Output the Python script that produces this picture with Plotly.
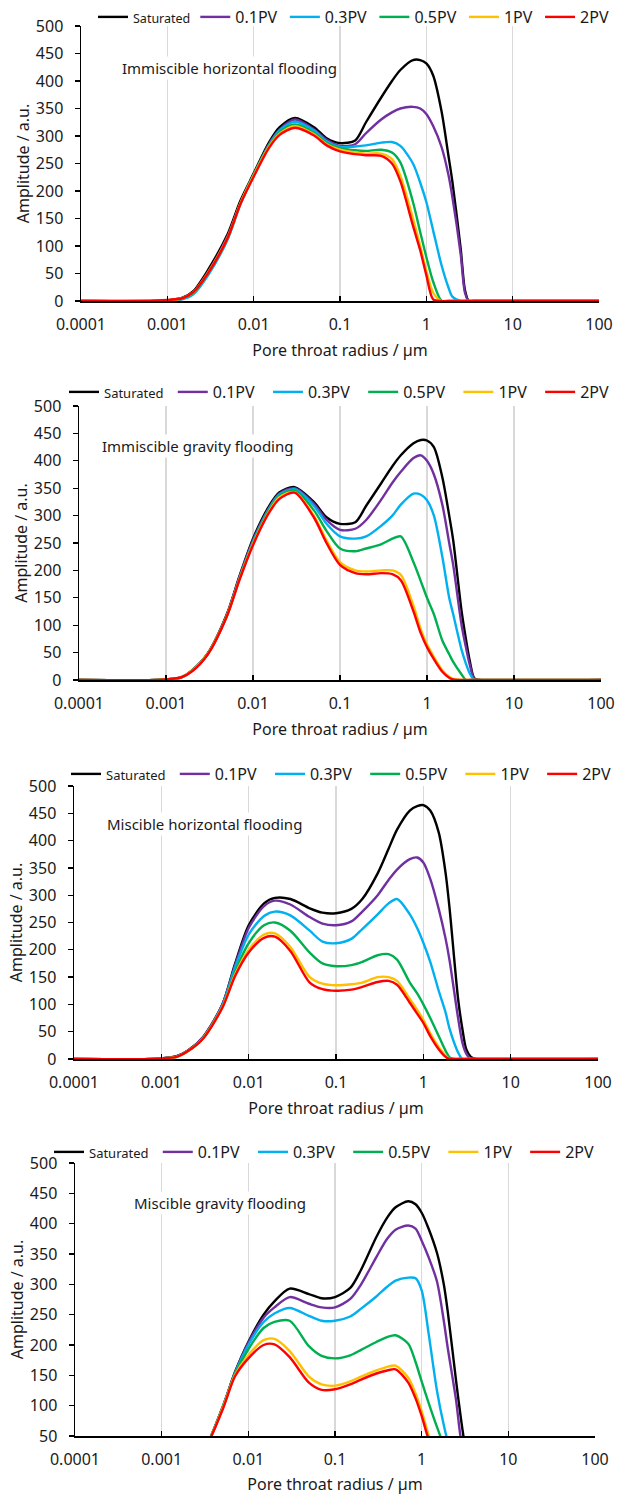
import plotly.graph_objects as go

# ---------------- data ----------------
radius = [0.0001, 0.0008, 0.001, 0.0015, 0.002, 0.003, 0.005, 0.007, 0.01, 0.015,
          0.02, 0.03, 0.05, 0.07, 0.1, 0.15, 0.2, 0.3, 0.4, 0.5,
          0.7, 0.85, 1, 1.2, 1.5, 1.8, 2, 2.5, 2.8, 3.1,
          3.5, 4, 100]

series_names = ["Saturated", "0.1PV", "0.3PV", "0.5PV", "1PV", "2PV"]
series_colors = ["#000000", "#7030A0", "#00B0F0", "#00B050", "#FFC000", "#FF0000"]
panel_titles = ["Immiscible horizontal flooding", "Immiscible gravity flooding",
                "Miscible horizontal flooding", "Miscible gravity flooding"]
x_tick_vals = [0.0001, 0.001, 0.01, 0.1, 1, 10, 100]
x_tick_text = ["0.0001", "0.001", "0.01", "0.1", "1", "10", "100"]

# Immiscible horizontal flooding
ih_sat = [0,0,1,6,18,58,122,182,232,288,316,333,316,296,287,292,325,370,400,420,438,438,432,410,345,265,218,95,20,0,0,0,0]
ih_01 = [0,0,1,5,16,54,118,178,230,285,312,330,312,293,282,285,305,330,343,350,353,350,340,318,280,230,190,85,15,0,0,0,0]
ih_03 = [0,0,0,3,12,48,112,175,228,283,310,326,310,290,280,281,283,288,289,282,250,215,180,128,65,25,8,0,0,0,0,0,0]
ih_05 = [0,0,1,5,15,52,115,177,230,282,307,321,306,287,278,274,273,275,270,252,180,125,80,35,0,0,0,0,0,0,0,0,0]
ih_1 = [0,0,1,5,16,53,116,177,228,280,304,318,303,285,275,270,268,268,258,228,150,100,55,15,0,0,0,0,0,0,0,0,0]
ih_2 = [0,1,2,5,16,52,115,176,226,278,302,315,301,283,272,267,265,264,250,218,137,92,47,3,0,0,0,0,0,0,0,0,0]

# Immiscible gravity flooding
ig_sat = [0,0,1,5,18,48,120,190,258,315,342,352,325,297,285,288,318,360,390,410,432,438,437,425,370,300,255,125,75,35,3,0,0]
ig_01 = [0,0,1,5,17,47,118,188,255,312,340,350,322,292,274,276,292,330,360,380,405,410,400,375,320,250,210,100,60,28,2,0,0]
ig_03 = [0,0,1,5,17,47,117,186,252,310,338,348,318,285,262,258,262,282,300,320,340,338,328,300,225,150,120,55,30,12,0,0,0]
ig_05 = [0,0,1,5,17,47,117,185,250,308,336,346,310,272,240,235,240,248,258,262,215,180,150,120,72,47,33,10,0,0,0,0,0]
ig_1 = [0,0,1,5,17,47,117,184,248,305,333,343,300,255,215,200,198,200,200,192,135,92,65,42,18,6,2,0,0,0,0,0,0]
ig_2 = [0,0,1,5,16,46,116,183,246,303,330,342,297,250,210,195,193,195,193,182,125,85,60,38,15,4,1,0,0,0,0,0,0]

# Miscible horizontal flooding
mh_sat = [0,0,1,5,15,40,100,175,245,285,295,293,276,268,267,275,293,340,385,420,455,463,465,455,415,340,275,110,55,18,4,0,0]
mh_01 = [0,0,1,5,15,40,100,172,240,280,290,283,260,248,245,252,270,300,328,347,366,369,360,330,275,220,180,75,30,10,0,0,0]
mh_03 = [0,0,1,4,14,38,98,168,228,262,270,263,235,215,212,220,238,265,285,293,265,240,213,178,125,85,55,12,0,0,0,0,0]
mh_05 = [0,0,1,4,14,38,96,160,212,245,250,235,195,175,170,172,178,190,192,182,140,120,100,75,42,15,3,0,0,0,0,0,0]
mh_1 = [0,0,1,4,14,38,95,155,200,228,230,205,150,138,135,137,140,150,150,143,110,90,72,47,22,6,0,0,0,0,0,0,0]
mh_2 = [0,0,1,4,14,37,94,152,195,222,224,198,140,128,125,127,132,141,143,136,103,83,66,42,18,4,0,0,0,0,0,0,0]

# Miscible gravity flooding
mg_sat = [0,0,1,4,10,25,96,155,205,250,272,293,284,277,279,294,324,378,410,427,437,432,418,392,352,300,255,140,85,42,10,0,0]
mg_01 = [0,0,1,4,10,25,96,154,203,245,262,279,268,262,262,276,300,345,375,390,397,392,372,345,305,240,195,108,50,20,0,0,0]
mg_03 = [0,0,1,4,10,25,95,153,200,238,252,261,248,240,240,247,260,280,296,306,311,310,290,220,125,68,42,10,0,0,0,0,0]
mg_05 = [0,0,1,4,10,25,95,152,193,228,238,240,198,182,178,183,192,205,213,216,202,172,140,105,65,35,20,0,0,0,0,0,0]
mg_1 = [0,0,1,4,10,25,94,150,183,208,210,190,148,135,133,140,148,158,164,166,146,120,91,52,15,0,0,0,0,0,0,0,0]
mg_2 = [0,0,1,4,10,25,92,148,178,200,201,180,138,126,127,135,143,153,158,160,138,112,83,45,12,0,0,0,0,0,0,0,0]

panels = [
    [ih_sat, ih_01, ih_03, ih_05, ih_1, ih_2],
    [ig_sat, ig_01, ig_03, ig_05, ig_1, ig_2],
    [mh_sat, mh_01, mh_03, mh_05, mh_1, mh_2],
    [mg_sat, mg_01, mg_03, mg_05, mg_1, mg_2],
]
y_ranges = [[0, 500], [0, 500], [0, 500], [50, 500]]

# ---------------- layout geometry (pixels) ----------------
W, H = 618, 1495
# (x_left, x_right, y_top, y_bottom) of each plot area
areas = [(81, 599, 26, 301), (79, 601, 406, 680), (74, 598, 786, 1059), (75, 595, 1163, 1436)]
legend_pos = [(93, 17), (64, 392), (66, 774), (49, 1152)]
title_pos = [(120, 68), (100, 446), (105, 824), (132, 1203)]
NB = "\u00a0"
SIX = "\u2006"
legend_pad = [("", SIX), (NB, NB + NB), (NB, NB + NB), (NB, NB + NB)]
sat_font = [12.5, 13, 13, 13]

FONT = "Noto Sans, Open Sans, sans-serif"
TXT = "#1a1a1a"

fig = go.Figure()
for p, series in enumerate(panels):
    ax = "" if p == 0 else str(p + 1)
    leg = "legend" if p == 0 else "legend%d" % (p + 1)
    for k, (name, col, vals) in enumerate(zip(series_names, series_colors, series)):
        if k == 0:
            label = '<span style="font-size:%spx">%s</span>%s' % (sat_font[p], name, legend_pad[p][0])
        elif k < len(series_names) - 1:
            label = name + legend_pad[p][1]
        else:
            label = name
        fig.add_trace(go.Scatter(
            x=radius, y=vals, mode="lines", name=label,
            line=dict(color=col, width=2.4, shape="spline", smoothing=0.8),
            xaxis="x" + ax, yaxis="y" + ax, legend=leg, hoverinfo="skip"))

layout = dict(
    width=W, height=H, margin=dict(l=0, r=0, t=0, b=0, autoexpand=False),
    paper_bgcolor="white", plot_bgcolor="white",
    font=dict(family=FONT, size=15, color=TXT),
    showlegend=True, annotations=[],
)
for p in range(4):
    xl, xr, yt, yb = areas[p]
    ax = "" if p == 0 else str(p + 1)
    layout["xaxis" + ax] = dict(
        type="log", range=[-4, 2], domain=[xl / W, xr / W],
        anchor="y" + ax, tickvals=x_tick_vals, ticktext=x_tick_text,
        showgrid=True, gridcolor="#d9d9d9", gridwidth=1.3,
        showline=True, linecolor="black", linewidth=1.5,
        ticks="inside", ticklen=5, tickcolor="black", tickwidth=1.3,
        ticklabelstandoff=8, tickfont=dict(size=16, color=TXT),
        title=dict(text="Pore throat radius / \u00b5m", standoff=11,
                   font=dict(size=16, color=TXT)),
        zeroline=False, fixedrange=True, automargin=False)
    layout["yaxis" + ax] = dict(
        range=y_ranges[p], dtick=50, domain=[1 - yb / H, 1 - yt / H],
        anchor="x" + ax, showgrid=False, zeroline=False,
        showline=True, linecolor="black", linewidth=1.5,
        ticks="outside", ticklen=5, tickcolor="black", tickwidth=1.3,
        ticklabelstandoff=8, tickfont=dict(size=16, color=TXT),
        title=dict(text="Amplitude / a.u.", standoff=2,
                   font=dict(size=16, color=TXT)),
        fixedrange=True, automargin=False)
    lx, ly = legend_pos[p]
    layout["legend" if p == 0 else "legend%d" % (p + 1)] = dict(
        orientation="h", x=lx / W, y=1 - ly / H, xanchor="left", yanchor="middle",
        bgcolor="rgba(255,255,255,0)", borderwidth=0, font=dict(size=16, color=TXT),
        itemclick=False, itemdoubleclick=False)
    tx, ty = title_pos[p]
    layout["annotations"].append(dict(
        text=panel_titles[p], xref="paper", yref="paper", x=tx / W, y=1 - ty / H,
        xanchor="left", yanchor="middle", showarrow=False, bgcolor="white",
        font=dict(size=15, color=TXT)))

fig.update_layout(**layout)
fig.write_html("out.html", config={"displayModeBar": False, "staticPlot": True},
               post_script="document.body.style.margin='0px';")
